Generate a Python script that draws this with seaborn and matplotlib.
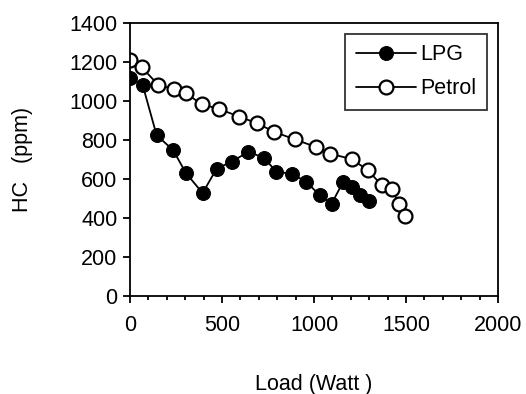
import matplotlib
matplotlib.use('Agg')
import matplotlib.pyplot as plt
import seaborn as sns
import pandas as pd
from matplotlib.ticker import MultipleLocator

# Values
lpg_load = [0, 69, 145, 235, 304, 395, 471, 552, 643, 728, 796, 878, 959, 1032, 1095, 1158, 1209, 1252, 1300]
lpg_hc = [1117, 1082, 824, 747, 630, 527, 653, 687, 739, 708, 636, 627, 584, 515, 472, 584, 558, 515, 486]

petrol_load = [0, 63, 154, 239, 304, 389, 485, 594, 691, 782, 896, 1010, 1086, 1204, 1294, 1367, 1421, 1463, 1493]
petrol_hc = [1208, 1173, 1082, 1060, 1039, 983, 958, 919, 885, 842, 802, 764, 730, 701, 644, 567, 550, 472, 412]

lpg = pd.DataFrame({'load': lpg_load, 'hc': lpg_hc})
petrol = pd.DataFrame({'load': petrol_load, 'hc': petrol_hc})

sns.set_style('ticks')
plt.rcParams['font.family'] = ['Liberation Sans', 'DejaVu Sans']
plt.rcParams['text.color'] = 'black'
plt.rcParams['axes.labelcolor'] = 'black'
plt.rcParams['xtick.color'] = 'black'
plt.rcParams['ytick.color'] = 'black'

fig, ax = plt.subplots(figsize=(5.26, 3.94), dpi=100)
plt.subplots_adjust(left=0.247, right=0.947, bottom=0.249, top=0.942)

sns.lineplot(x='load', y='hc', data=lpg, ax=ax, color='black', linewidth=1.3,
             marker='o', markersize=10, markerfacecolor='black', markeredgecolor='black',
             label='LPG', sort=False)
sns.lineplot(x='load', y='hc', data=petrol, ax=ax, color='black', linewidth=1.3,
             marker='o', markersize=10, markerfacecolor='white', markeredgecolor='black',
             markeredgewidth=1.6, label='Petrol', sort=False)

ax.set_xlim(0, 2000)
ax.set_ylim(0, 1400)
ax.xaxis.set_major_locator(MultipleLocator(500))
ax.xaxis.set_minor_locator(MultipleLocator(100))
ax.yaxis.set_major_locator(MultipleLocator(200))
ax.tick_params(axis='both', which='major', labelsize=15.5, direction='out', length=5, width=1.3)
ax.tick_params(axis='x', which='minor', direction='out', length=3, width=1.3)
ax.tick_params(axis='x', pad=9)
ax.tick_params(axis='y', pad=4)

for s in ax.spines.values():
    s.set_linewidth(1.3)
    s.set_color('black')

ax.set_xlabel('Load (Watt )', fontsize=15.5, labelpad=27)
ax.set_ylabel('HC   (ppm)', fontsize=15.5, labelpad=26)

leg = ax.legend(loc='upper right', fontsize=15.5, frameon=True, fancybox=False,
                edgecolor='black', borderpad=0.5, handlelength=2.8, handletextpad=0.2,
                borderaxespad=0.5, labelspacing=0.6)
leg.get_frame().set_linewidth(1.3)

fig.savefig('out.png', dpi=100)
